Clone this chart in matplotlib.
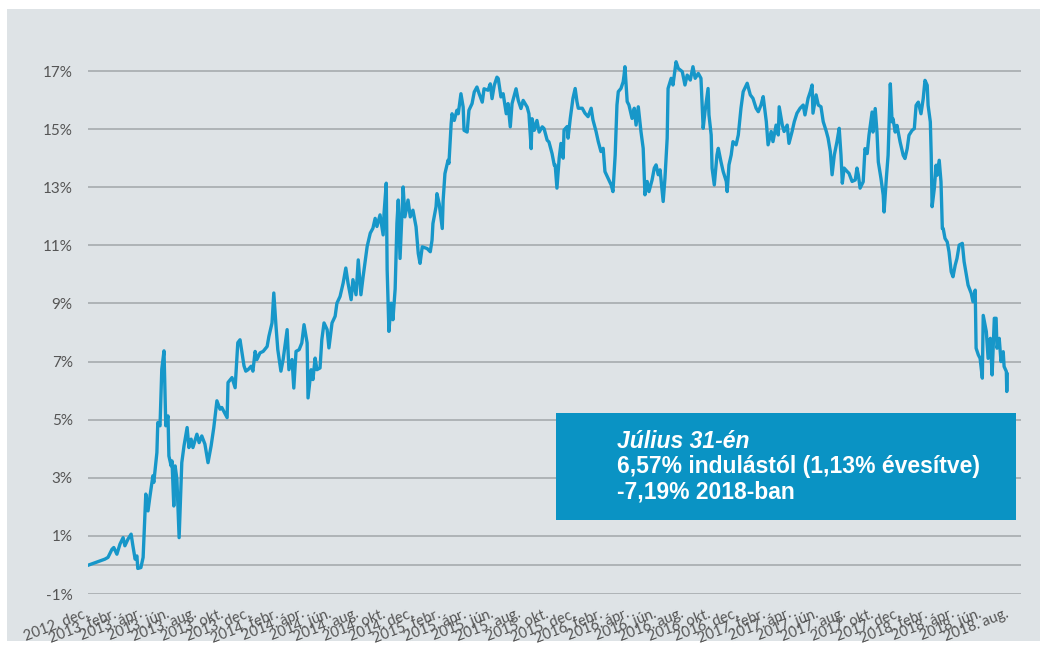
import matplotlib
matplotlib.use("Agg")
import matplotlib.pyplot as plt
from matplotlib.patches import Rectangle
import pandas as pd

dates = [
 "2012-12-03","2013-01-08","2013-01-15","2013-01-24","2013-01-28","2013-02-04","2013-02-11","2013-02-18",
 "2013-02-22","2013-03-01","2013-03-08","2013-03-12","2013-03-17","2013-03-21","2013-03-23","2013-03-30",
 "2013-04-04","2013-04-10","2013-04-15","2013-04-19","2013-04-26","2013-04-28","2013-05-05","2013-05-07",
 "2013-05-12","2013-05-16","2013-05-21","2013-05-25","2013-05-30","2013-06-01","2013-06-06","2013-06-08",
 "2013-06-12","2013-06-15","2013-06-19","2013-06-24","2013-06-30","2013-07-05","2013-07-12","2013-07-16",
 "2013-07-21","2013-07-25","2013-08-03","2013-08-08","2013-08-14","2013-08-21","2013-08-28","2013-09-04",
 "2013-09-10","2013-09-17","2013-09-24","2013-09-28","2013-10-10","2013-10-12","2013-10-21","2013-10-28",
 "2013-11-03","2013-11-08","2013-11-17","2013-11-21","2013-11-26","2013-12-03","2013-12-07","2013-12-12",
 "2013-12-16","2013-12-23","2013-12-30","2014-01-08","2014-01-12","2014-01-19","2014-01-23","2014-01-28",
 "2014-02-01","2014-02-08","2014-02-13","2014-02-22","2014-02-26","2014-03-05","2014-03-09","2014-03-14",
 "2014-03-21","2014-03-27","2014-04-01","2014-04-08","2014-04-10","2014-04-17","2014-04-21","2014-04-26",
 "2014-04-30","2014-05-07","2014-05-11","2014-05-16","2014-05-23","2014-05-27","2014-06-03","2014-06-10",
 "2014-06-14","2014-06-21","2014-06-28","2014-07-04","2014-07-09","2014-07-16","2014-07-20","2014-07-27",
 "2014-08-01","2014-08-07","2014-08-12","2014-08-16","2014-08-21","2014-08-28","2014-09-03","2014-09-08",
 "2014-09-12","2014-09-19","2014-09-26","2014-09-28","2014-10-03","2014-10-05","2014-10-09","2014-10-14",
 "2014-10-18","2014-10-23","2014-10-27","2014-10-30","2014-11-03","2014-11-08","2014-11-10","2014-11-14",
 "2014-11-21","2014-11-26","2014-12-02","2014-12-09","2014-12-14","2014-12-18","2014-12-23","2015-01-03",
 "2015-01-10","2015-01-14","2015-01-16","2015-01-23","2015-01-25","2015-01-30","2015-02-06","2015-02-08",
 "2015-02-12","2015-02-19","2015-02-21","2015-02-26","2015-02-28","2015-03-05","2015-03-11","2015-03-14",
 "2015-03-20","2015-03-25","2015-03-27","2015-04-03","2015-04-07","2015-04-14","2015-04-19","2015-04-25",
 "2015-04-30","2015-05-07","2015-05-11","2015-05-20","2015-05-25","2015-05-29","2015-06-03","2015-06-09",
 "2015-06-12","2015-06-18","2015-06-23","2015-06-30","2015-07-04","2015-07-09","2015-07-13","2015-07-22",
 "2015-07-27","2015-08-02","2015-08-07","2015-08-16","2015-08-20","2015-08-25","2015-08-27","2015-09-01",
 "2015-09-07","2015-09-12","2015-09-19","2015-09-23","2015-09-30","2015-10-04","2015-10-11","2015-10-16",
 "2015-10-18","2015-10-22","2015-10-27","2015-10-31","2015-11-05","2015-11-07","2015-11-14","2015-11-16",
 "2015-11-21","2015-11-27","2015-12-02","2015-12-06","2015-12-09","2015-12-18","2015-12-24","2015-12-31",
 "2016-01-07","2016-01-11","2016-01-18","2016-01-23","2016-01-29","2016-02-03","2016-02-07","2016-02-14",
 "2016-02-21","2016-02-25","2016-03-01","2016-03-05","2016-03-08","2016-03-14","2016-03-19","2016-03-21",
 "2016-03-23","2016-03-28","2016-04-01","2016-04-08","2016-04-13","2016-04-17","2016-04-22","2016-04-28",
 "2016-05-03","2016-05-07","2016-05-12","2016-05-16","2016-05-23","2016-05-28","2016-06-01","2016-06-06",
 "2016-06-10","2016-06-17","2016-06-21","2016-06-26","2016-06-28","2016-07-05","2016-07-09","2016-07-16",
 "2016-07-21","2016-07-30","2016-08-05","2016-08-10","2016-08-17","2016-08-23","2016-08-28","2016-09-04",
 "2016-09-10","2016-09-15","2016-09-19","2016-09-26","2016-09-28","2016-10-03","2016-10-05","2016-10-10",
 "2016-10-16","2016-10-19","2016-10-25","2016-10-30","2016-11-06","2016-11-08","2016-11-12","2016-11-17",
 "2016-11-21","2016-11-28","2016-12-03","2016-12-09","2016-12-14","2016-12-21","2016-12-23","2016-12-30",
 "2017-01-05","2017-01-12","2017-01-17","2017-01-23","2017-01-28","2017-02-04","2017-02-08","2017-02-15",
 "2017-02-19","2017-02-26","2017-03-03","2017-03-05","2017-03-12","2017-03-16","2017-03-23","2017-03-27",
 "2017-04-03","2017-04-08","2017-04-14","2017-04-21","2017-04-28","2017-05-02","2017-05-09","2017-05-14",
 "2017-05-18","2017-05-20","2017-05-27","2017-06-01","2017-06-07","2017-06-12","2017-06-19","2017-06-23",
 "2017-06-28","2017-07-02","2017-07-07","2017-07-13","2017-07-18","2017-07-22","2017-07-25","2017-07-29",
 "2017-08-05","2017-08-09","2017-08-16","2017-08-23","2017-08-27","2017-08-30","2017-09-03","2017-09-10",
 "2017-09-14","2017-09-19","2017-09-23","2017-09-30","2017-10-02","2017-10-07","2017-10-11","2017-10-14",
 "2017-10-20","2017-10-25","2017-10-27","2017-11-01","2017-11-05","2017-11-10","2017-11-14","2017-11-16",
 "2017-11-21","2017-11-25","2017-12-02","2017-12-09","2017-12-13","2017-12-18","2017-12-22","2017-12-29",
 "2018-01-03","2018-01-07","2018-01-12","2018-01-18","2018-01-23","2018-01-27","2018-02-01","2018-02-03",
 "2018-02-08","2018-02-10","2018-02-12","2018-02-17","2018-02-21","2018-02-23","2018-02-28","2018-03-04",
 "2018-03-07","2018-03-09","2018-03-13","2018-03-18","2018-03-22","2018-03-27","2018-03-31","2018-04-05",
 "2018-04-09","2018-04-14","2018-04-21","2018-04-25","2018-04-30","2018-05-04","2018-05-11","2018-05-15",
 "2018-05-20","2018-05-22","2018-05-27","2018-05-31","2018-06-05","2018-06-07","2018-06-14","2018-06-18",
 "2018-06-23","2018-06-27","2018-07-02","2018-07-06","2018-07-08","2018-07-13","2018-07-17","2018-07-22",
 "2018-07-24","2018-07-29","2018-07-30","2018-07-31",
]

values = [
 0.00, 0.20, 0.26, 0.54, 0.60, 0.37, 0.72, 0.94,
 0.66, 0.89, 1.06, 0.66, 0.20, 0.31, -0.12, -0.09,
 0.26, 2.44, 1.86, 2.32, 3.07, 2.84, 3.87, 4.90,
 4.79, 6.74, 7.37, 4.79, 5.13, 3.75, 3.41, 3.58,
 2.03, 3.41, 2.95, 0.94, 3.52, 4.10, 4.73, 4.04,
 4.33, 4.04, 4.50, 4.21, 4.44, 4.16, 3.52, 4.10,
 4.73, 5.65, 5.36, 5.42, 5.07, 6.28, 6.45, 6.10,
 7.65, 7.75, 6.85, 6.67, 6.72, 6.84, 6.67, 7.35,
 7.07, 7.30, 7.35, 7.52, 7.87, 8.33, 9.36, 8.21,
 7.41, 6.67, 7.07, 8.10, 6.72, 7.07, 6.09, 7.35,
 7.41, 7.64, 8.27, 7.64, 5.75, 6.72, 6.38, 7.12,
 6.72, 6.78, 7.75, 8.33, 8.10, 7.47, 8.33, 8.56,
 9.01, 9.24, 9.70, 10.22, 9.70, 9.13, 9.82, 9.30,
 10.50, 9.30, 9.93, 10.39, 10.96, 11.42, 11.59, 11.93,
 11.65, 12.05, 11.36, 12.10, 13.14, 10.16, 8.04, 9.01,
 8.44, 9.50, 11.76, 12.56, 10.55, 12.33, 13.01, 11.98,
 12.56, 11.98, 12.21, 11.64, 10.72, 10.38, 10.95, 10.89,
 10.78, 11.18, 11.75, 12.33, 12.78, 12.44, 11.58, 12.56,
 13.47, 13.93, 13.82, 15.19, 15.53, 15.30, 15.65, 15.53,
 16.22, 15.76, 14.96, 14.90, 15.65, 15.88, 16.28, 16.45,
 16.22, 15.93, 16.39, 16.34, 16.56, 16.05, 16.51, 16.79,
 16.74, 16.11, 16.22, 15.53, 15.88, 15.08, 15.88, 16.39,
 15.99, 15.71, 15.99, 15.76, 15.53, 14.33, 15.36, 14.96,
 15.30, 14.90, 15.08, 15.02, 14.62, 14.56, 14.16, 13.76,
 13.77, 12.97, 14.00, 14.51, 14.00, 14.97, 15.09, 14.69,
 15.37, 16.06, 16.40, 15.95, 15.72, 15.72, 15.55, 15.43,
 15.72, 15.32, 14.92, 14.57, 14.23, 14.34, 13.54, 13.31,
 13.08, 12.85, 14.11, 15.83, 16.29, 16.40, 16.63, 16.86,
 17.15, 15.95, 15.83, 15.37, 15.72, 15.14, 15.77, 14.92,
 14.34, 12.74, 13.20, 12.85, 13.25, 13.66, 13.77, 13.43,
 13.60, 12.51, 13.31, 14.69, 16.40, 16.75, 16.52, 17.32,
 17.09, 16.98, 16.52, 16.86, 16.69, 17.15, 16.75, 16.92,
 16.75, 15.03, 15.60, 16.40, 15.49, 14.80, 13.66, 13.08,
 14.11, 14.34, 13.88, 13.54, 13.20, 12.85, 13.77, 14.11,
 14.57, 14.46, 14.80, 15.72, 16.29, 16.52, 16.58, 16.18,
 16.06, 15.72, 15.60, 15.83, 16.12, 15.26, 14.46, 14.92,
 14.57, 15.14, 14.80, 15.77, 15.14, 14.92, 15.14, 14.51,
 14.92, 15.26, 15.55, 15.72, 15.83, 15.49, 16.06, 16.29,
 16.52, 15.55, 16.18, 15.83, 15.77, 15.26, 14.92, 14.69,
 14.23, 13.43, 14.11, 14.57, 15.03, 14.11, 13.14, 13.66,
 13.54, 13.48, 13.20, 13.25, 13.66, 13.43, 12.97, 13.19,
 14.33, 14.16, 14.79, 15.59, 14.90, 15.71, 14.90, 13.87,
 13.30, 12.73, 12.15, 13.30, 14.10, 16.56, 15.25, 15.36,
 14.90, 15.13, 14.56, 14.10, 13.99, 14.33, 14.79, 14.96,
 15.02, 15.82, 15.93, 15.53, 16.05, 16.68, 16.51, 15.82,
 15.25, 14.10, 12.33, 12.96, 13.76, 13.41, 13.93, 13.19,
 11.58, 11.58, 11.24, 11.12, 10.78, 10.09, 9.92, 10.32,
 10.55, 11.01, 11.07, 10.44, 9.98, 9.63, 9.35, 9.06,
 9.46, 7.46, 7.23, 7.11, 6.43, 8.59, 8.03, 7.11,
 7.80, 6.54, 8.49, 8.49, 7.46, 7.80, 7.00, 7.34,
 6.83, 6.66, 5.97, 6.57,
]

y_ticks = [-1, 1, 3, 5, 7, 9, 11, 13, 15, 17]
month_names = {12: "dec.", 2: "febr.", 4: "ápr.", 6: "jún.", 8: "aug.", 10: "okt."}
tick_dates = pd.date_range("2012-12-01", "2018-08-01", freq="2MS")
tick_labels = [f"{d.year}. {month_names[d.month]}" for d in tick_dates]

box_lines = ["Július 31-én", "6,57% indulástól (1,13% évesítve)", "-7,19% 2018-ban"]

BG = "#DEE3E6"
LINE = "#1797C9"
BOX = "#0A93C4"
GRID = "#ABAFB2"
TXT = "#555555"

fig = plt.figure(figsize=(10.45, 6.48), dpi=100)
fig.patch.set_facecolor("white")
fig.patches.append(Rectangle((7 / 1045, 1 - 641 / 648), (1040 - 7) / 1045, (641 - 9) / 648,
                             transform=fig.transFigure, facecolor=BG, edgecolor="none", zorder=-10))

ax = fig.add_axes([88 / 1045, 1 - 594 / 648, (1021 - 88) / 1045, (594 - 42) / 648])
ax.set_facecolor("none")
ax.set_zorder(1)

x = pd.to_datetime(dates)
ax.plot(x, values, color=LINE, lw=2.4, solid_joinstyle="round", zorder=3)

ax.set_ylim(-1, 18)
ax.set_xlim(pd.Timestamp("2012-12-01"), pd.Timestamp("2018-08-31"))
ax.set_yticks(y_ticks)
ax.set_yticklabels([f"{t}%" for t in y_ticks])
for t in y_ticks:
    ax.axhline(t, color=GRID, lw=1.3, zorder=1)
ax.axhline(0, color=GRID, lw=1.3, zorder=1)

ax.set_xticks(tick_dates)
ax.set_xticklabels(tick_labels, rotation=21, ha="right", va="center", rotation_mode="anchor")
for lab in ax.get_xticklabels():
    lab.set_fontfamily("Lato")
    lab.set_fontsize(10.5)
    lab.set_color(TXT)
for lab in ax.get_yticklabels():
    lab.set_fontfamily("Lato")
    lab.set_fontsize(11)
    lab.set_color(TXT)
ax.tick_params(axis="x", length=0, pad=14)
ax.tick_params(axis="y", length=0, pad=11)
for s in ax.spines.values():
    s.set_visible(False)

# annotation box
fig.patches.append(Rectangle((556 / 1045, 1 - 520 / 648), (1016 - 556) / 1045, (520 - 413) / 648,
                             transform=fig.transFigure, facecolor=BOX, edgecolor="none", zorder=5))
fs = 16.5
fig.text(617 / 1045, 1 - 442 / 648, box_lines[0], color="white", fontsize=fs, fontweight="bold",
         fontstyle="italic", family="Liberation Sans", va="center", ha="left", zorder=6)
fig.text(617 / 1045, 1 - 467 / 648, box_lines[1], color="white", fontsize=fs, fontweight="bold",
         family="Liberation Sans", va="center", ha="left", zorder=6)
fig.text(617 / 1045, 1 - 492 / 648, box_lines[2], color="white", fontsize=fs, fontweight="bold",
         family="Liberation Sans", va="center", ha="left", zorder=6)

fig.savefig("out.png", dpi=100, facecolor=fig.get_facecolor())
